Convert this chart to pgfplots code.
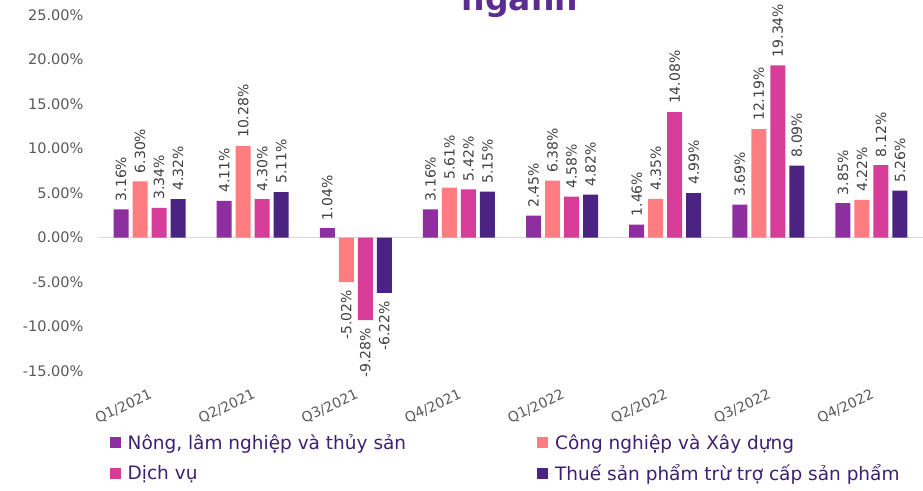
\documentclass[border=0pt]{standalone}
\usepackage{pgfplots}
\pgfplotsset{compat=1.18}
\usepackage{fontspec}
\setmainfont{DejaVu Sans}
\definecolor{cNong}{HTML}{8E2FA0}
\definecolor{cCong}{HTML}{FF7C80}
\definecolor{cDich}{HTML}{D63C98}
\definecolor{cThue}{HTML}{4B2483}
\definecolor{cTitle}{HTML}{5C2D91}
\definecolor{cLeg}{HTML}{3F1F72}
\definecolor{cTick}{HTML}{595959}
\definecolor{cLab}{HTML}{404040}
\begin{document}
\begin{tikzpicture}
\useasboundingbox (0pt,0pt) rectangle (923pt,-490pt);
\clip (0pt,0pt) rectangle (923pt,-490pt);
\node[font=\fontsize{33}{33}\selectfont\bfseries, text=cTitle, anchor=base, inner sep=0pt] at (520pt,-10pt) {ngành};
\begin{axis}[
  at={(98pt,-371pt)}, anchor=south west,
  scale only axis, width=825pt, height=356pt,
  ybar=4pt, bar width=15pt,
  xmin=-0.5, xmax=7.5, ymin=-15, ymax=25,
  axis x line*=bottom, axis y line*=left,
  axis line style={draw=none},
  major tick length=0pt,
  xtick={0,...,7},
  xticklabels={Q1/2021,Q2/2021,Q3/2021,Q4/2021,Q1/2022,Q2/2022,Q3/2022,Q4/2022},
  xticklabel style={rotate=25, anchor=north east, font=\fontsize{14}{14}\selectfont, text=cTick, yshift=-12pt, xshift=-5pt},
  ytick={-15,-10,...,25},
  yticklabel={\pgfmathprintnumber[fixed,fixed zerofill,precision=2]{\tick}\%},
  yticklabel style={font=\fontsize{14.5}{14.5}\selectfont, text=cTick, xshift=-11pt},
  /pgf/number format/assume math mode=true,
  extra y ticks={0}, extra y tick labels={},
  extra y tick style={grid=major, major grid style={draw=black!15, line width=1.5pt}},
  visualization depends on={y \as \rawy},
  nodes near coords={\pgfmathprintnumber[fixed,fixed zerofill,precision=2,assume math mode=true]{\pgfplotspointmeta}\%},
  every node near coord/.append style={rotate=90, font=\fontsize{14}{14}\selectfont, text=cLab, inner xsep=8pt, inner ysep=2pt,
     anchor=\ifdim\rawy pt<0pt east\else west\fi},
  legend columns=2,
  legend cell align=left,
  legend style={draw=none, fill=none, at={(0.0139,-0.172)}, anchor=north west,
     font=\fontsize{18.5}{18.5}\selectfont, text=cLeg, inner sep=0pt, row sep=9.5pt,
     /tikz/every even column/.append style={column sep=129pt}},
  legend image code/.code={\fill[#1] (0pt,-5.5pt) rectangle (11pt,5.5pt); \path (0pt,0pt) -- (16pt,0pt);},
]
\addplot[fill=cNong, draw=none] coordinates {(0,3.16) (1,4.11) (2,1.04) (3,3.16) (4,2.45) (5,1.46) (6,3.69) (7,3.85)};
\addplot[fill=cCong, draw=none] coordinates {(0,6.30) (1,10.28) (2,-5.02) (3,5.61) (4,6.38) (5,4.35) (6,12.19) (7,4.22)};
\addplot[fill=cDich, draw=none] coordinates {(0,3.34) (1,4.30) (2,-9.28) (3,5.42) (4,4.58) (5,14.08) (6,19.34) (7,8.12)};
\addplot[fill=cThue, draw=none] coordinates {(0,4.32) (1,5.11) (2,-6.22) (3,5.15) (4,4.82) (5,4.99) (6,8.09) (7,5.26)};
\legend{{Nông, lâm nghiệp và thủy sản}, Công nghiệp và Xây dựng, Dịch vụ, Thuế sản phẩm trừ trợ cấp sản phẩm}
\end{axis}
\end{tikzpicture}
\end{document}
